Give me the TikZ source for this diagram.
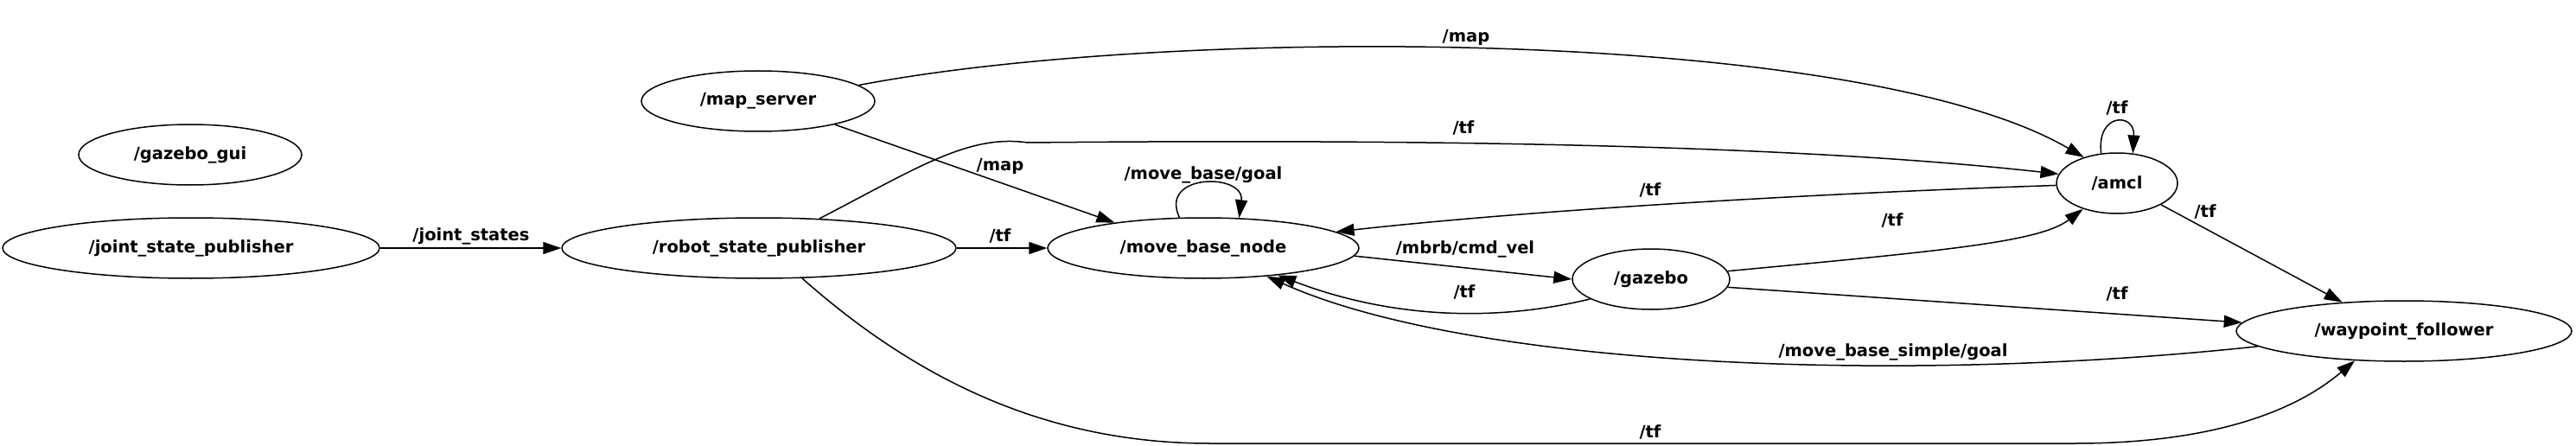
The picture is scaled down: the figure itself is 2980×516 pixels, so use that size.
\documentclass[tikz,border=0pt]{standalone}
\usepackage{fontspec}
\setmainfont{DejaVu Sans}
\usetikzlibrary{shapes.geometric,arrows.meta}

\begin{document}
\begin{tikzpicture}[x=1pt,y=-1pt,
  every node/.style={font=\fontsize{19.5}{22}\selectfont\bfseries},
  rosnode/.style={ellipse,draw,line width=1.5pt,inner sep=0pt,minimum height=70pt},
  topic/.style={line width=1.5pt,-{Triangle[length=21pt,width=14pt]}},
  lbl/.style={inner sep=0pt}]
  \fill[white] (0,0) rectangle (2980,516);
  \useasboundingbox (0,0) rectangle (2980,516);

  \node[rosnode,minimum width=258pt] (gui) at (220,179) {/gazebo\_gui};
  \node[rosnode,minimum width=436pt] (jsp) at (221,287) {/joint\_state\_publisher};
  \node[rosnode,minimum width=270pt] (ms) at (877,117) {/map\_server};
  \node[rosnode,minimum width=456pt] (rsp) at (878,287) {/robot\_state\_publisher};
  \node[rosnode,minimum width=360pt] (mbn) at (1392,287) {/move\_base\_node};
  \node[rosnode,minimum width=182pt] (gz) at (1910,323) {/gazebo};
  \node[rosnode,minimum width=140pt] (amcl) at (2449,212) {/amcl};
  \node[rosnode,minimum width=388pt] (wp) at (2781,383) {/waypoint\_follower};

  \draw[topic] (jsp) -- (rsp);
  \draw[topic] (rsp) -- (mbn);
  \draw[topic] (ms.-17) -- (mbn.164);
  \draw[topic] (ms.9) .. controls (1350,30) and (2150,30) .. (amcl.142);
  \draw[topic] (rsp.26) .. controls (1060,195) and (1120,155) .. (1189,165)
    .. controls (1700,160) and (2100,170) .. (amcl.171);
  \draw[topic] (mbn.128) .. controls (1340,200) and (1440,200) .. (mbn.40);
  \draw[topic] (amcl.182) .. controls (2150,222) and (1800,240) .. (mbn.7);
  \draw[topic] (mbn.-3) -- (gz.west);
  \draw[topic] (gz.198) .. controls (1720,375) and (1600,365) .. (mbn.-20);
  \draw[topic] (wp.186) .. controls (2200,445) and (1700,425) .. (mbn.-24);
  \draw[topic] (gz.6) .. controls (2250,290) and (2360,280) .. (amcl.217);
  \draw[topic] (gz.-6) -- (wp.177);
  \draw[topic] (amcl.-26) -- (wp.155);
  \draw[topic] (amcl.118) .. controls (2425,130) and (2470,130) .. (amcl.62);
  \draw[topic] (rsp.-35) .. controls (1050,430) and (1200,513) .. (1400,513)
    -- (2400,513) .. controls (2550,513) and (2650,480) .. (wp.211);

  \node[lbl] (ljs) at (545,273) {/joint\_states};
  \node[lbl] (ltf1) at (1157,273) {/tf};
  \node[lbl] (lmap1) at (1157,192) {/map};
  \node[lbl] (lmap2) at (1696,43) {/map};
  \node[lbl] (ltf2) at (1693,148) {/tf};
  \node[lbl] (lgoal) at (1392,202) {/move\_base/goal};
  \node[lbl] (ltf3) at (1909,220) {/tf};
  \node[lbl] (lvel) at (1695,288) {/mbrb/cmd\_vel};
  \node[lbl] (ltf4) at (1694,338) {/tf};
  \node[lbl] (lsgoal) at (2190,407) {/move\_base\_simple/goal};
  \node[lbl] (ltf5) at (2189,255) {/tf};
  \node[lbl] (ltf6) at (2449,340) {/tf};
  \node[lbl] (ltf7) at (2551,245) {/tf};
  \node[lbl] (ltf8) at (2449,125) {/tf};
  \node[lbl] (ltf9) at (1909,500) {/tf};
\end{tikzpicture}
\end{document}
